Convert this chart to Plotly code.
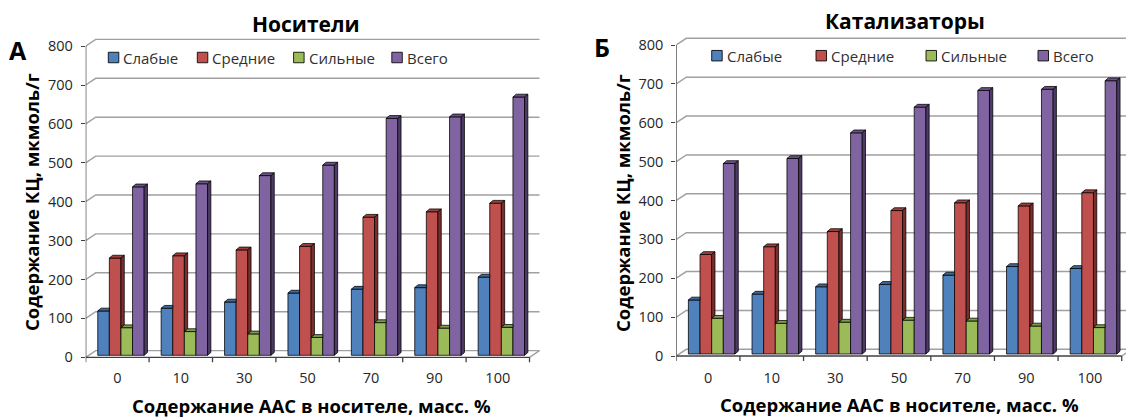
import plotly.graph_objects as go

# ---------------- data ----------------
categories = ["0", "10", "30", "50", "70", "90", "100"]
series_names = ["Слабые", "Средние", "Сильные", "Всего"]

A_weak = [114, 121, 137, 160, 170, 174, 201]
A_medium = [250, 256, 271, 280, 355, 369, 391]
A_strong = [71, 61, 55, 46, 84, 70, 72]
A_total = [433, 441, 462, 489, 609, 613, 664]

B_weak = [139, 154, 173, 179, 203, 225, 220]
B_medium = [256, 276, 315, 369, 389, 381, 415]
B_strong = [92, 79, 82, 87, 85, 72, 68]
B_total = [490, 503, 569, 635, 678, 681, 703]

y_ticks = [0, 100, 200, 300, 400, 500, 600, 700, 800]

panel_titles = ["Носители", "Катализаторы"]
panel_letters = ["А", "Б"]
x_title = "Содержание ААС в носителе, масс. %"
y_title = "Содержание КЦ, мкмоль/г"

# ---------------- style ----------------
W, H = 1126, 417
FONT = "Open Sans"
front_colors = ["#4F81BD", "#C0504D", "#9BBB59", "#8064A2"]
top_colors = ["#40699B", "#A03F3C", "#7F9C47", "#6A5189"]
side_colors = ["#2E4C72", "#7B2F2D", "#5F7535", "#4D3A66"]
edge = "rgba(0,0,0,0.85)"
grid_color = "#A0A0A0"
axis_color = "#404040"

DOM_TOP_PX, DOM_BOT_PX = 30, 366

panels = [
    dict(data=[A_weak, A_medium, A_strong, A_total], ax_px=85.7, cat_px=63.4,
         y0_px=357.3, ppu=0.389, right_px=548, xa="x", ya="y",
         title_xy=(306, 24), letter_xy=(18, 50), ytitle_xy=(31, 202), xtitle_xy=(311, 405),
         legend_x=[108.3, 197.3, 293.6, 391.8], legend_y=57.5),
    dict(data=[B_weak, B_medium, B_strong, B_total], ax_px=676.3, cat_px=63.63,
         y0_px=356.0, ppu=0.38875, right_px=1126, xa="x2", ya="y2",
         title_xy=(905, 21), letter_xy=(602, 47), ytitle_xy=(622, 203), xtitle_xy=(899, 404),
         legend_x=[711.7, 816.0, 926.0, 1038.0], legend_y=55.7),
]

fig = go.Figure()
shapes = []
annotations = []
n = len(categories)


def px(x):
    return x / W


def py(y):
    return 1 - y / H


for k, p in enumerate(panels):
    cat = p["cat_px"]
    ppu = p["ppu"]
    xa, ya = p["xa"], p["ya"]
    # depth offsets in data units
    dxw, dyw = 10 / cat, 6.7 / ppu          # back wall
    dxb, dyb = 3.3 / cat, 2.8 / ppu          # bar depth
    b0 = 2.0 / ppu                           # bar plane above front floor
    group_left, bw = -0.31, 0.183
    xl, xr = -0.5, n - 0.5

    for s in range(4):
        vals = p["data"][s]
        xs = [i + group_left + (s + 0.5) * bw for i in range(n)]
        fig.add_trace(go.Bar(
            x=xs, y=vals, base=b0, width=bw, name=series_names[s],
            marker=dict(color=front_colors[s], line=dict(color=edge, width=0.9)),
            xaxis=xa, yaxis=ya, showlegend=False, hoverinfo="skip"))
        tx, ty, sx, sy = [], [], [], []
        for i in range(n):
            v = vals[i] + b0
            x0 = xs[i] - bw / 2
            x1 = xs[i] + bw / 2
            nxt = p["data"][s + 1][i] + b0 if s < 3 else None
            if nxt is not None and nxt > v:
                tx += [x0, x1, x1, x0 + dxb, x0, None]
                ty += [v, v, v + dyb, v + dyb, v, None]
            else:
                tx += [x0, x1, x1 + dxb, x0 + dxb, x0, None]
                ty += [v, v, v + dyb, v + dyb, v, None]
                lo = b0 if nxt is None else max(b0, nxt)
                if lo < v:
                    sx += [x1, x1, x1 + dxb, x1 + dxb, x1, None]
                    sy += [lo, v, v + dyb, lo + dyb, lo, None]
        fig.add_trace(go.Scatter(
            x=tx, y=ty, mode="lines", fill="toself", fillcolor=top_colors[s],
            line=dict(color=edge, width=0.9), xaxis=xa, yaxis=ya,
            showlegend=False, hoverinfo="skip"))
        if sx:
            fig.add_trace(go.Scatter(
                x=sx, y=sy, mode="lines", fill="toself", fillcolor=side_colors[s],
                line=dict(color=edge, width=0.9), xaxis=xa, yaxis=ya,
                showlegend=False, hoverinfo="skip"))

    # back wall gridlines
    for v in y_ticks:
        shapes.append(dict(type="path", xref=xa, yref=ya, layer="below",
                           path=f"M {xl},{v} L {xl + dxw},{v + dyw} L {xr + dxw},{v + dyw}",
                           line=dict(color=grid_color, width=1.4)))
    # floor right edge
    shapes.append(dict(type="line", xref=xa, yref=ya, layer="below",
                       x0=xr, y0=0, x1=xr + dxw, y1=dyw,
                       line=dict(color=grid_color, width=1.4)))
    # front floor line and y axis line
    shapes.append(dict(type="line", xref=xa, yref=ya, x0=xl, y0=0, x1=xr, y1=0,
                       line=dict(color=axis_color, width=1.3)))
    shapes.append(dict(type="line", xref=xa, yref=ya, x0=xl, y0=0, x1=xl, y1=y_ticks[-1],
                       line=dict(color=axis_color, width=1.3)))
    # category boundary ticks
    for b in range(n + 1):
        shapes.append(dict(type="line", xref=xa, yref=ya, x0=b - 0.5, y0=0,
                           x1=b - 0.5, y1=-5 / ppu,
                           line=dict(color=axis_color, width=1.3)))

    # axes
    x_range = [xl, (p["right_px"] - p["ax_px"]) / cat - 0.5]
    y_range = [(p["y0_px"] - DOM_BOT_PX) / ppu, (p["y0_px"] - DOM_TOP_PX) / ppu]
    xaxis = dict(domain=[px(p["ax_px"]), px(p["right_px"])], range=x_range,
                 tickvals=list(range(n)), ticktext=categories, ticks="",
                 showgrid=False, zeroline=False, showline=False,
                 tickfont=dict(family=FONT, size=14.5, color="#262626"),
                 ticklabelstandoff=1, anchor=ya, fixedrange=True)
    yaxis = dict(domain=[py(DOM_BOT_PX), py(DOM_TOP_PX)], range=y_range,
                 tickvals=y_ticks, ticks="outside", ticklen=4, tickcolor=axis_color,
                 tickwidth=1.3, showgrid=False, zeroline=False, showline=False,
                 tickfont=dict(family=FONT, size=14.5, color="#262626"),
                 ticklabelstandoff=5, anchor=xa, fixedrange=True)
    if k == 0:
        fig.update_layout(xaxis=xaxis, yaxis=yaxis)
    else:
        fig.update_layout(xaxis2=xaxis, yaxis2=yaxis)

    # titles and letters
    annotations.append(dict(text=f"<b>{panel_titles[k]}</b>", x=px(p["title_xy"][0]),
                            y=py(p["title_xy"][1]), xref="paper", yref="paper",
                            showarrow=False, xanchor="center", yanchor="middle",
                            font=dict(family=FONT, size=21, color="black")))
    annotations.append(dict(text=f"<b>{panel_letters[k]}</b>", x=px(p["letter_xy"][0]),
                            y=py(p["letter_xy"][1]), xref="paper", yref="paper",
                            showarrow=False, xanchor="center", yanchor="middle",
                            font=dict(family=FONT, size=25, color="black")))
    annotations.append(dict(text=f"<b>{y_title}</b>", x=px(p["ytitle_xy"][0]),
                            y=py(p["ytitle_xy"][1]), xref="paper", yref="paper",
                            showarrow=False, xanchor="center", yanchor="middle",
                            textangle=-90,
                            font=dict(family=FONT, size=18.5, color="black")))
    annotations.append(dict(text=f"<b>{x_title}</b>", x=px(p["xtitle_xy"][0]),
                            y=py(p["xtitle_xy"][1]), xref="paper", yref="paper",
                            showarrow=False, xanchor="center", yanchor="middle",
                            font=dict(family=FONT, size=18.5, color="black")))
    # legend
    sq = 10.5
    for s in range(4):
        lx = p["legend_x"][s]
        ly = p["legend_y"]
        shapes.append(dict(type="rect", xref="paper", yref="paper",
                           x0=px(lx), x1=px(lx + sq), y0=py(ly + sq / 2), y1=py(ly - sq / 2),
                           fillcolor=front_colors[s], line=dict(color=edge, width=1)))
        annotations.append(dict(text=series_names[s], x=px(lx + sq + 2.5), y=py(ly),
                                xref="paper", yref="paper", showarrow=False,
                                xanchor="left", yanchor="middle",
                                font=dict(family=FONT, size=15, color="#303030")))

fig.update_layout(
    width=W, height=H, margin=dict(l=0, r=0, t=0, b=0),
    paper_bgcolor="white", plot_bgcolor="rgba(0,0,0,0)",
    barmode="overlay", showlegend=False,
    shapes=shapes, annotations=annotations,
)

fig.write_html("out.html")
